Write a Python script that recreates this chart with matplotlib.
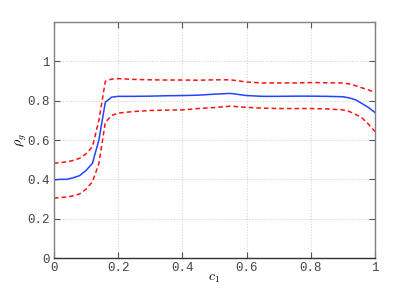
import numpy as np
import matplotlib
matplotlib.use('Agg')
import matplotlib.pyplot as plt

plt.rcParams['mathtext.fontset'] = 'cm'

# values
c1 = [0.0, 0.02, 0.04, 0.06, 0.08, 0.10, 0.12, 0.14, 0.16, 0.18, 0.20, 0.25, 0.30,
      0.35, 0.40, 0.45, 0.50, 0.55, 0.60, 0.65, 0.70, 0.75, 0.80, 0.85, 0.90,
      0.92, 0.94, 0.96, 0.98, 1.0]
rho_mean = [0.397, 0.400, 0.400, 0.408, 0.419, 0.445, 0.482, 0.600, 0.792, 0.818,
            0.822, 0.822, 0.823, 0.825, 0.826, 0.828, 0.833, 0.837, 0.826, 0.822,
            0.822, 0.823, 0.823, 0.822, 0.820, 0.814, 0.804, 0.785, 0.765, 0.740]
rho_upper = [0.482, 0.485, 0.489, 0.496, 0.507, 0.530, 0.566, 0.700, 0.898, 0.910,
             0.912, 0.908, 0.906, 0.905, 0.905, 0.904, 0.906, 0.906, 0.895, 0.890,
             0.890, 0.890, 0.892, 0.891, 0.890, 0.885, 0.876, 0.865, 0.855, 0.841]
rho_lower = [0.304, 0.308, 0.310, 0.316, 0.326, 0.350, 0.388, 0.480, 0.690, 0.725,
             0.737, 0.745, 0.750, 0.752, 0.753, 0.760, 0.765, 0.772, 0.766, 0.762,
             0.760, 0.760, 0.760, 0.758, 0.753, 0.745, 0.730, 0.712, 0.680, 0.643]

fig = plt.figure(figsize=(4.15, 2.91), dpi=100)
ax = fig.add_axes([0.130, 0.1134, 0.7735, 0.811])

ax.plot(c1, rho_mean, color='#2244ff', lw=1.1)
ax.plot(c1, rho_upper, color='#ff1010', lw=1.1, ls=(0, (3, 2)))
ax.plot(c1, rho_lower, color='#ff1010', lw=1.1, ls=(0, (3, 2)))

ax.set_xlim(0, 1)
ax.set_ylim(0, 1.2)
ax.set_xticks([0, 0.2, 0.4, 0.6, 0.8, 1])
ax.set_xticklabels(['0', '0.2', '0.4', '0.6', '0.8', '1'])
ax.set_yticks([0, 0.2, 0.4, 0.6, 0.8, 1])
ax.set_yticklabels(['0', '0.2', '0.4', '0.6', '0.8', '1'])
ax.grid(True, color='#d4d4d4', ls=(0, (1, 1.5)), lw=0.8)
ax.tick_params(direction='in', length=4, width=0.8, color='#555555',
               top=True, right=True, labelsize=9, pad=3)
for lab in ax.get_xticklabels() + ax.get_yticklabels():
    lab.set_family('Liberation Mono')
    lab.set_color('#444444')
for s in ax.spines.values():
    s.set_color('#808080')
    s.set_linewidth(1.0)
ax.spines['bottom'].set_color('#333333')

ax.set_xlabel('$c_1$', fontsize=10, labelpad=-2)
ax.set_ylabel(r'$\rho_g$', fontsize=10, labelpad=-1)

fig.savefig('out.png', dpi=100)
